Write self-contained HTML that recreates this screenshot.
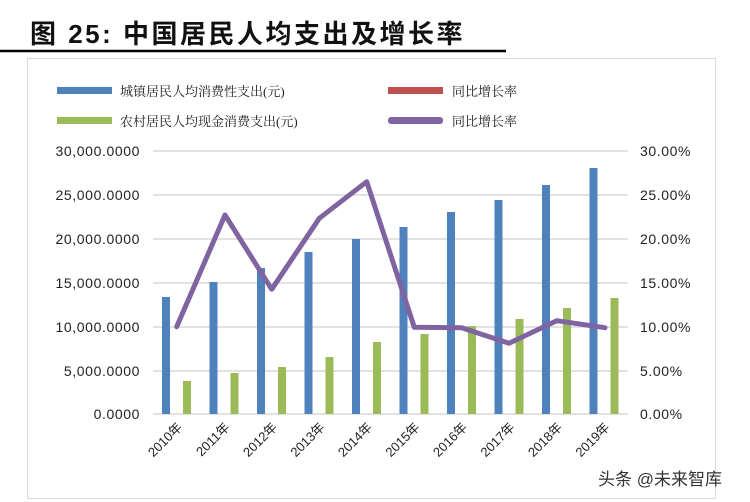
<!DOCTYPE html>
<html><head><meta charset="utf-8"><style>
body{margin:0;background:#fff;width:750px;height:502px;overflow:hidden;font-family:"Liberation Sans","Noto Sans CJK SC",sans-serif}
</style></head><body>
<svg width="750" height="502" xmlns="http://www.w3.org/2000/svg" style="position:absolute;left:0;top:0">
<text x="30" y="43" font-size="26" font-weight="bold" letter-spacing="2.5" font-family="Liberation Sans,Noto Sans CJK SC,sans-serif" fill="#111">图 25:  中国居民人均支出及增长率</text>
<line x1="0" y1="51" x2="506" y2="51" stroke="#000" stroke-width="2.5"/>
<rect x="27.5" y="58.5" width="688" height="440" fill="none" stroke="#d9d9d9"/>
<g font-size="13" font-family="Liberation Serif,Noto Serif CJK SC,serif" fill="#222">
<rect x="57" y="87" width="55" height="7" fill="#4f81bd"/><text x="120" y="96">城镇居民人均消费性支出(元)</text>
<rect x="388" y="87" width="55" height="7" fill="#c0504d"/><text x="452" y="96">同比增长率</text>
<rect x="57" y="117" width="55" height="7" fill="#9bbb59"/><text x="120" y="126">农村居民人均现金消费支出(元)</text>
<rect x="388" y="117" width="55" height="7" rx="3" fill="#8064a2"/><text x="452" y="126">同比增长率</text>
</g>
<g stroke="#d9d9d9" stroke-width="1.5">
<line x1="153" y1="151" x2="628" y2="151"/><line x1="153" y1="195" x2="628" y2="195"/><line x1="153" y1="239" x2="628" y2="239"/><line x1="153" y1="283" x2="628" y2="283"/><line x1="153" y1="327" x2="628" y2="327"/><line x1="153" y1="371" x2="628" y2="371"/><line x1="153" y1="414" x2="628" y2="414"/>
</g>
<g font-size="14" fill="#222" text-anchor="end" letter-spacing="0.6">
<text x="140" y="156">30,000.0000</text><text x="140" y="200">25,000.0000</text><text x="140" y="244">20,000.0000</text><text x="140" y="288">15,000.0000</text><text x="140" y="332">10,000.0000</text><text x="140" y="376">5,000.0000</text><text x="140" y="419">0.0000</text>
</g>
<g font-size="14" fill="#222" letter-spacing="0.6">
<text x="640" y="156">30.00%</text><text x="640" y="200">25.00%</text><text x="640" y="244">20.00%</text><text x="640" y="288">15.00%</text><text x="640" y="332">10.00%</text><text x="640" y="376">5.00%</text><text x="640" y="419">0.00%</text>
</g>
<g fill="#4f81bd">
<rect x="162" y="297" width="8" height="117"/><rect x="209.5" y="282" width="8" height="132"/><rect x="257" y="268" width="8" height="146"/><rect x="304.5" y="252" width="8" height="162"/><rect x="352" y="239" width="8" height="175"/><rect x="399.5" y="227" width="8" height="187"/><rect x="447" y="212" width="8" height="202"/><rect x="494.5" y="200" width="8" height="214"/><rect x="542" y="185" width="8" height="229"/><rect x="589.5" y="168" width="8" height="246"/>
</g>
<g fill="#9bbb59">
<rect x="183" y="381" width="8" height="33"/><rect x="230.5" y="373" width="8" height="41"/><rect x="278" y="367" width="8" height="47"/><rect x="325.5" y="357" width="8" height="57"/><rect x="373" y="342" width="8" height="72"/><rect x="420.5" y="334" width="8" height="80"/><rect x="468" y="326" width="8" height="88"/><rect x="515.5" y="319" width="8" height="95"/><rect x="563" y="308" width="8" height="106"/><rect x="610.5" y="298" width="8" height="116"/>
</g>
<polyline points="176.7,326.7 225,215 271.7,289.3 319.3,218.3 366.7,181.7 414.3,327.3 461.7,327.7 509,343.3 556.7,320.7 605,327.7" fill="none" stroke="#8064a2" stroke-width="5" stroke-linejoin="round" stroke-linecap="round"/>
<g font-size="13" fill="#222" text-anchor="end">
<text transform="translate(183,428) rotate(-45)">2010年</text>
<text transform="translate(230.5,428) rotate(-45)">2011年</text>
<text transform="translate(278,428) rotate(-45)">2012年</text>
<text transform="translate(325.5,428) rotate(-45)">2013年</text>
<text transform="translate(373,428) rotate(-45)">2014年</text>
<text transform="translate(420.5,428) rotate(-45)">2015年</text>
<text transform="translate(468,428) rotate(-45)">2016年</text>
<text transform="translate(515.5,428) rotate(-45)">2017年</text>
<text transform="translate(563,428) rotate(-45)">2018年</text>
<text transform="translate(610.5,428) rotate(-45)">2019年</text>
</g>
<text x="598" y="485" font-size="17" fill="#333">头条 @未来智库</text>
</svg>
</body></html>
